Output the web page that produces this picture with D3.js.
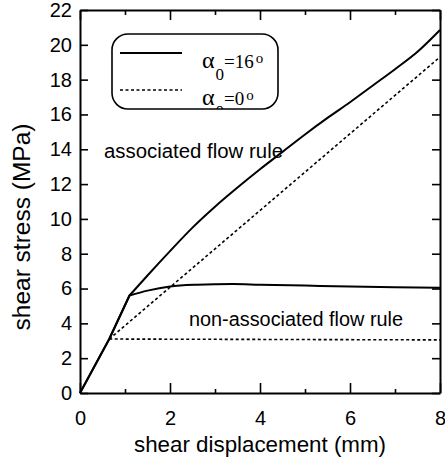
<!DOCTYPE html>
<html>
<head>
<meta charset="utf-8">
<script src="https://cdn.jsdelivr.net/npm/d3@7"></script>
<style>
  body { margin: 0; background: #fff; }
  text { font-family: "Liberation Sans", Arial, sans-serif; fill: #000; }
  .serif { font-family: "Liberation Serif", "Times New Roman", serif; }
</style>
</head>
<body>
<div id="chart"></div>
<script>
// shear displacement (mm) / shear stress (MPa)
let assocSolidX    = [0, 0.65, 1.1, 1.5, 2.0, 2.5, 3.0, 3.5, 4.0, 4.5, 5.0, 5.5, 6.0, 6.5, 7.0, 7.5, 8.0];
let assocSolidY    = [0, 3.1, 5.6, 6.75, 8.15, 9.5, 10.7, 11.8, 12.85, 13.85, 14.85, 15.8, 16.7, 17.65, 18.6, 19.6, 20.85];
let nonAssocSolidX = [0, 0.65, 1.1, 1.5, 2.0, 2.6, 3.4, 4.0, 5.0, 6.0, 7.0, 8.0];
let nonAssocSolidY = [0, 3.1, 5.6, 5.88, 6.12, 6.22, 6.26, 6.22, 6.17, 6.12, 6.08, 6.05];
let assocDashX     = [0.65, 8.0];
let assocDashY     = [3.1, 19.3];
let nonAssocDashX  = [0.65, 8.0];
let nonAssocDashY  = [3.1, 3.05];
let yieldX = 1.1;   // end of the elastic branch, where the solid curves bend

let xTicks = [0, 1, 2, 3, 4, 5, 6, 7, 8];
let yTicks = [0, 2, 4, 6, 8, 10, 12, 14, 16, 18, 20, 22];

let W = 445, H = 460;
let LEFT = 80, RIGHT = 440, TOP = 10, BOTTOM = 393;

let svg = d3.select("#chart").append("svg").attr("width", W).attr("height", H);

let xScale = d3.scaleLinear().domain([0, 8]).range([LEFT, RIGHT]);
let yScale = d3.scaleLinear().domain([0, 22]).range([BOTTOM, TOP]);

function styleAxis(g) {
  g.select(".domain").attr("stroke", "#000").attr("stroke-width", 2);
  g.selectAll(".tick line").attr("stroke", "#000").attr("stroke-width", 1.6);
  g.selectAll(".tick text").attr("font-family", null).style("font-size", "20px").attr("fill", "#000");
}

// bottom axis, long ticks at even values
let xAxis = svg.append("g").attr("transform", "translate(0," + BOTTOM + ")")
  .call(d3.axisBottom(xScale).tickValues(xTicks).tickSizeInner(-10).tickSizeOuter(0).tickPadding(18)
        .tickFormat(function(d) { return d % 2 ? "" : d; }));
styleAxis(xAxis);
xAxis.selectAll(".tick line").attr("y2", function(d) { return d % 2 ? -4 : -10; });

let xTop = svg.append("g").attr("transform", "translate(0," + TOP + ")")
  .call(d3.axisTop(xScale).tickValues(xTicks).tickSizeInner(-10).tickSizeOuter(0).tickFormat(""));
styleAxis(xTop);
xTop.selectAll(".tick line").attr("y2", function(d) { return d % 2 ? 5 : 10; });

let yAxis = svg.append("g").attr("transform", "translate(" + LEFT + ",0)")
  .call(d3.axisLeft(yScale).tickValues(yTicks).tickSizeInner(-8).tickSizeOuter(0).tickPadding(8));
styleAxis(yAxis);

let yRight = svg.append("g").attr("transform", "translate(" + RIGHT + ",0)")
  .call(d3.axisRight(yScale).tickValues(yTicks).tickSizeInner(-8).tickSizeOuter(0).tickFormat(""));
styleAxis(yRight);

// axis titles
svg.append("text").attr("x", (LEFT + RIGHT) / 2).attr("y", 452)
  .attr("text-anchor", "middle").style("font-size", "22px")
  .attr("textLength", 252).attr("lengthAdjust", "spacingAndGlyphs")
  .text("shear displacement (mm)");

svg.append("text").attr("transform", "translate(30,227) rotate(-90)")
  .attr("text-anchor", "middle").style("font-size", "23px")
  .attr("textLength", 207).attr("lengthAdjust", "spacingAndGlyphs")
  .text("shear stress (MPa)");

// curves: elastic part straight, then a smooth curve after the yield point
function pairs(xs, ys) {
  return xs.map(function(x, i) { return [x, ys[i]]; });
}
let straight = d3.line().x(function(d) { return xScale(d[0]); }).y(function(d) { return yScale(d[1]); });
let smooth = d3.line().x(function(d) { return xScale(d[0]); }).y(function(d) { return yScale(d[1]); })
  .curve(d3.curveMonotoneX);

function drawSolid(xs, ys) {
  let pts = pairs(xs, ys);
  let elastic = pts.filter(function(p) { return p[0] <= yieldX; });
  let plastic = pts.filter(function(p) { return p[0] >= yieldX; });
  svg.append("path").attr("d", straight(elastic) + smooth(plastic).replace(/^M/, "L"))
    .attr("fill", "none").attr("stroke", "#000").attr("stroke-width", 2).attr("stroke-linejoin", "round");
}
drawSolid(assocSolidX, assocSolidY);
drawSolid(nonAssocSolidX, nonAssocSolidY);

svg.append("path").attr("d", straight(pairs(assocDashX, assocDashY)))
  .attr("fill", "none").attr("stroke", "#000").attr("stroke-width", 1.6).attr("stroke-dasharray", "3,2.5");
svg.append("path").attr("d", straight(pairs(nonAssocDashX, nonAssocDashY)))
  .attr("fill", "none").attr("stroke", "#000").attr("stroke-width", 1.6).attr("stroke-dasharray", "3,2.5");

// annotations
svg.append("text").attr("x", 104).attr("y", 158).style("font-size", "20px")
  .attr("textLength", 179).attr("lengthAdjust", "spacingAndGlyphs")
  .text("associated flow rule");
svg.append("text").attr("x", 189).attr("y", 326).style("font-size", "20px")
  .attr("textLength", 214).attr("lengthAdjust", "spacingAndGlyphs")
  .text("non-associated flow rule");

// legend
let defs = svg.append("defs");
defs.append("clipPath").attr("id", "legClip")
  .append("rect").attr("x", 112).attr("y", 34).attr("width", 166).attr("height", 75).attr("rx", 16);

let legend = svg.append("g");
legend.append("rect").attr("x", 112).attr("y", 34).attr("width", 166).attr("height", 75).attr("rx", 16)
  .attr("fill", "#fff").attr("stroke", "#000").attr("stroke-width", 1.6);
legend.append("line").attr("x1", 120).attr("x2", 182).attr("y1", 53).attr("y2", 53)
  .attr("stroke", "#000").attr("stroke-width", 2);
legend.append("line").attr("x1", 120).attr("x2", 182).attr("y1", 90).attr("y2", 90)
  .attr("stroke", "#000").attr("stroke-width", 1.6).attr("stroke-dasharray", "3,2.5");

let legendLabels = ["16", "0"];
let legendY = [68, 105];
legendLabels.forEach(function(lab, i) {
  let t = legend.append("text").attr("class", "serif").attr("clip-path", "url(#legClip)")
    .attr("x", 202).attr("y", legendY[i]).style("font-size", "20px");
  t.append("tspan").style("font-size", "24px").text("α");
  t.append("tspan").attr("dy", 12).attr("dx", 1).style("font-size", "17px").text("0");
  t.append("tspan").attr("dy", -12).style("font-size", "19px").text("=" + lab);
  t.append("tspan").attr("dy", -5).attr("dx", 2).style("font-size", "15px").text("o");
});
</script>
</body>
</html>
